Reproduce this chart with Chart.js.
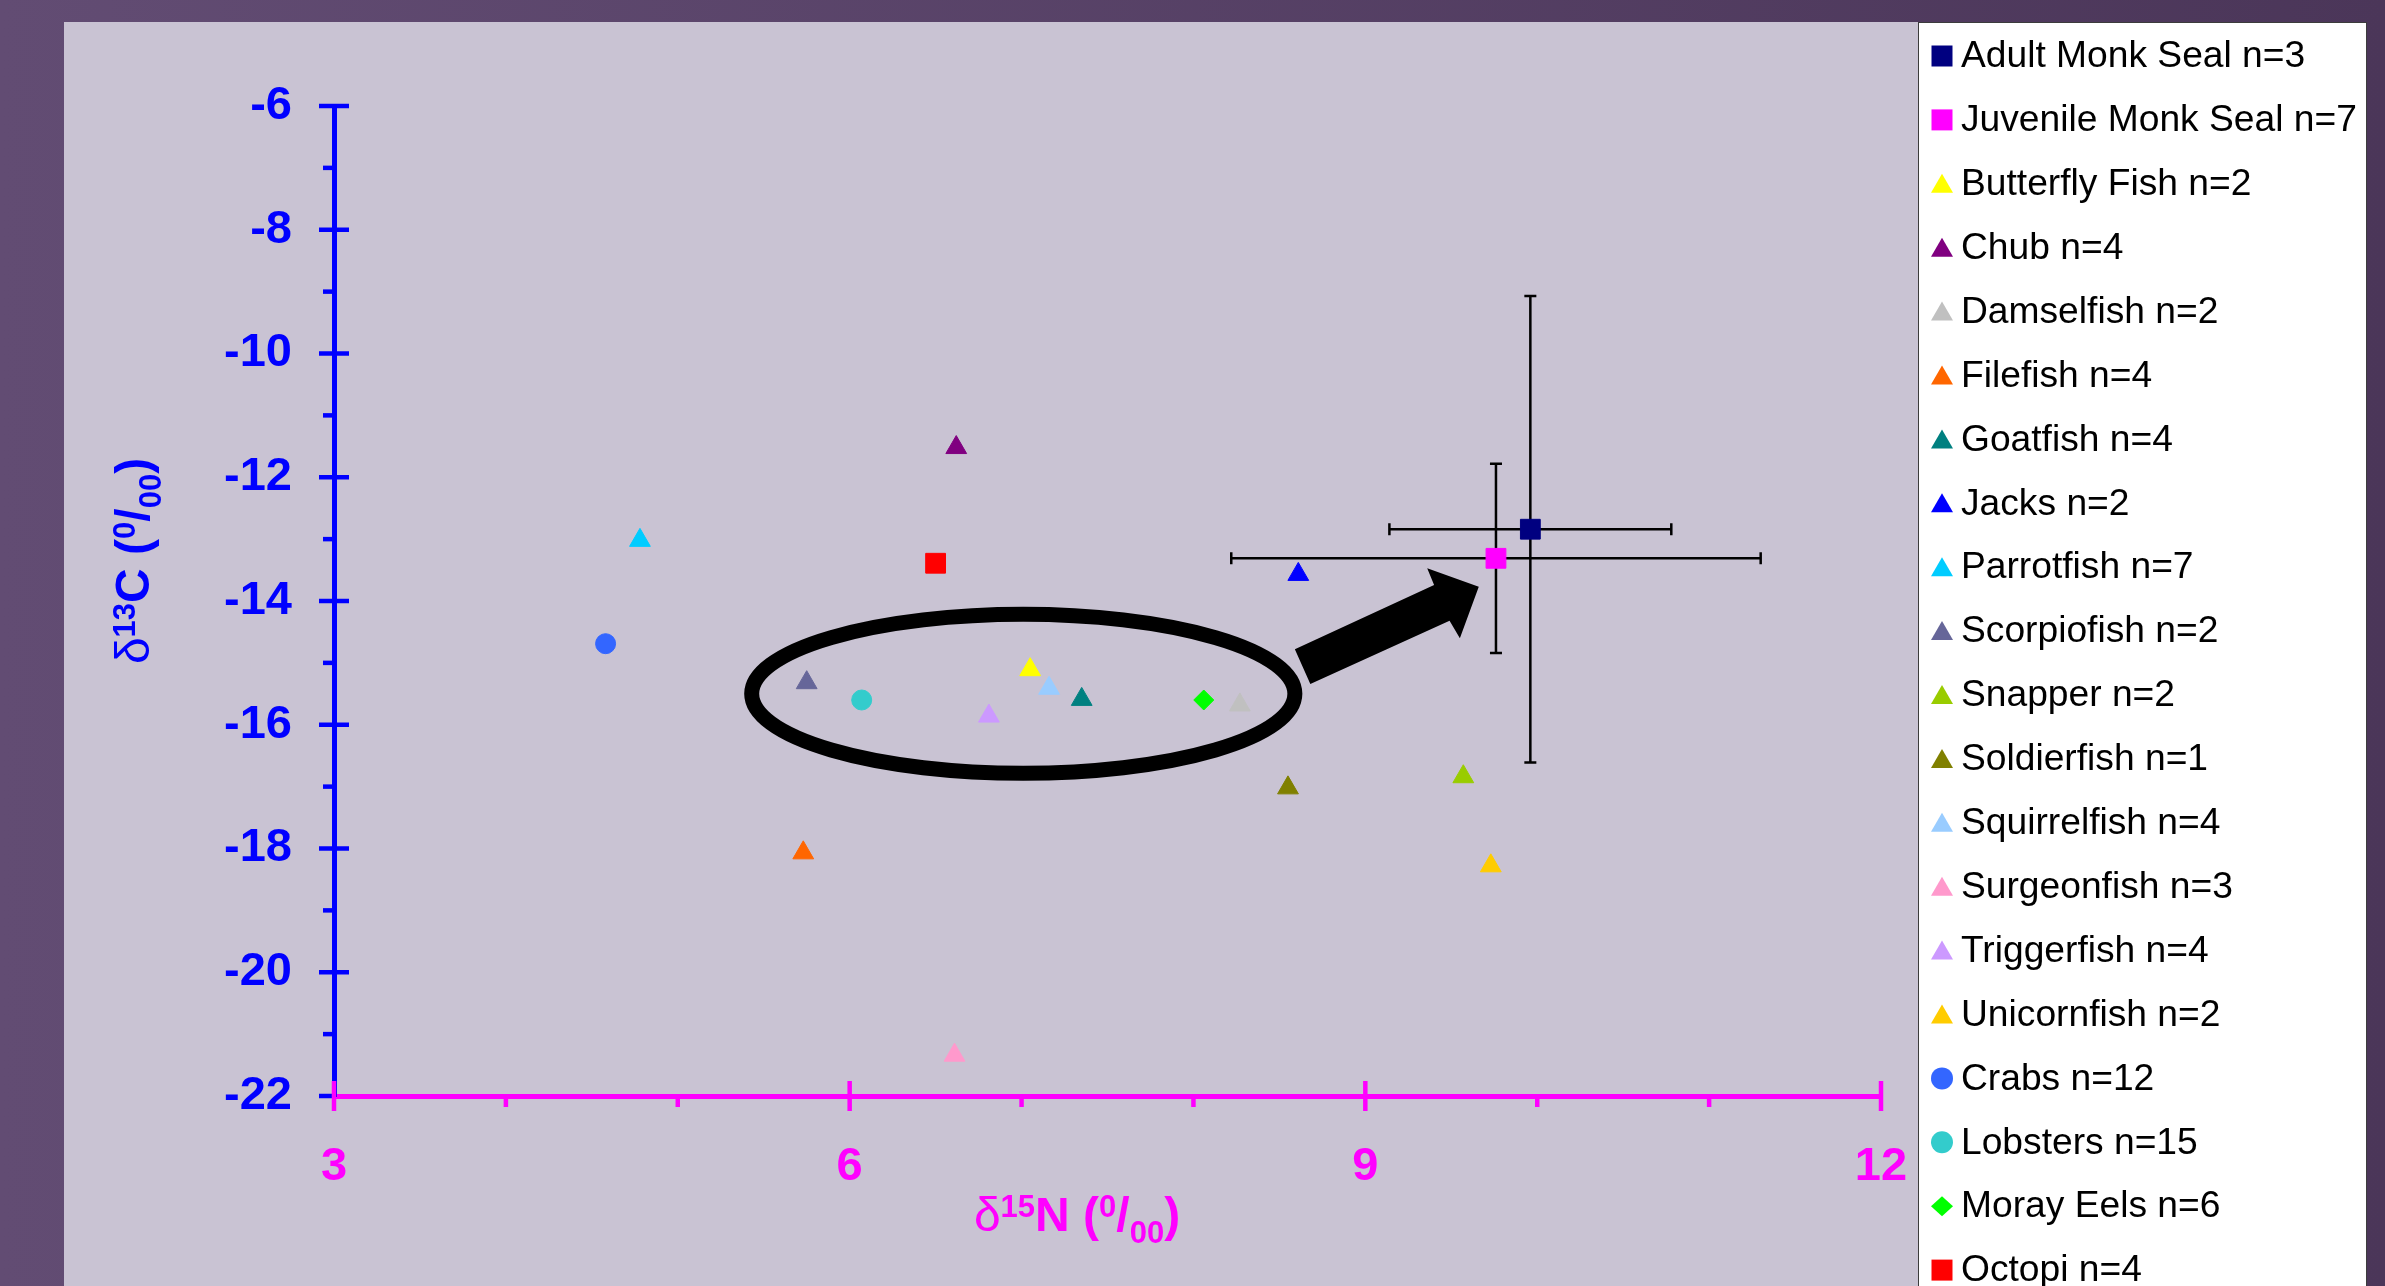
<!DOCTYPE html>
<html>
<head>
<meta charset="utf-8">
<script src="https://cdn.jsdelivr.net/npm/chart.js@4.4.1/dist/chart.umd.min.js"></script>
<style>
  html, body { margin: 0; padding: 0; }
  body { width: 2385px; height: 1286px; overflow: hidden; position: relative;
         background: linear-gradient(to right, #624c73, #4b3659); }
  #panel { position: absolute; left: 64px; top: 22px; width: 1855px; height: 1300px; background: #c9c3d3; }
  #legendBox { position: absolute; left: 1918px; top: 22px; width: 449px; height: 1300px;
               background: #ffffff; border: 1px solid #3c3c3c; box-sizing: border-box; }
  #chart { position: absolute; left: 0; top: 0; }
</style>
</head>
<body>
<div id="panel"></div>
<div id="legendBox"></div>
<canvas id="chart" width="2385" height="1286"></canvas>
<script>
// especies y numero de muestras
const species = ['Adult Monk Seal', 'Juvenile Monk Seal', 'Butterfly Fish', 'Chub', 'Damselfish',
  'Filefish', 'Goatfish', 'Jacks', 'Parrotfish', 'Scorpiofish', 'Snapper', 'Soldierfish',
  'Squirrelfish', 'Surgeonfish', 'Triggerfish', 'Unicornfish', 'Crabs', 'Lobsters', 'Moray Eels', 'Octopi']
const sampleSize = [3, 7, 2, 4, 2, 4, 4, 2, 7, 2, 2, 1, 4, 3, 4, 2, 12, 15, 6, 4]

// valores medios (d15N en x, d13C en y)
const n15 = [9.96, 9.76, 7.05, 6.62, 8.27, 5.73, 7.35, 8.61, 4.78, 5.75, 9.57, 8.55, 7.16, 6.61, 6.81, 9.73, 4.58, 6.07, 8.06, 6.50]
const c13 = [-12.84, -13.31, -15.11, -11.52, -15.68, -18.07, -15.59, -13.57, -13.02, -15.32, -16.84, -17.02,
  -15.41, -21.34, -15.86, -18.28, -14.69, -15.60, -15.60, -13.39]

// barras de error, solo las focas las tienen
const n15Err = [0.82, 1.54, 0, 0, 0, 0, 0, 0, 0, 0, 0, 0, 0, 0, 0, 0, 0, 0, 0, 0]
const c13Err = [3.77, 1.53, 0, 0, 0, 0, 0, 0, 0, 0, 0, 0, 0, 0, 0, 0, 0, 0, 0, 0]

// etiquetas de los ejes
const xTickLabels = [3, 6, 9, 12]
const yTickLabels = [-6, -8, -10, -12, -14, -16, -18, -20, -22]

// ovalo y flecha dibujados sobre el grafico (en unidades de los ejes)
const ovalCenter = [7.01, -15.50]
const ovalRadius = [1.58, 1.285]
const arrowPoints = [[8.59, -14.78], [9.40, -13.74], [9.36, -13.47], [9.66, -13.77], [9.55, -14.60], [9.49, -14.32], [8.68, -15.34]]

const colors = ['#000080', '#ff00ff', '#ffff00', '#800080', '#c0c0c0', '#ff6600', '#008080', '#0000ff',
  '#00ccff', '#666699', '#99cc00', '#808000', '#99ccff', '#ff99cc', '#cc99ff', '#ffcc00',
  '#3366ff', '#33cccc', '#00ff00', '#ff0000']
const shapes = ['rect', 'rect', 'triangle', 'triangle', 'triangle', 'triangle', 'triangle', 'triangle',
  'triangle', 'triangle', 'triangle', 'triangle', 'triangle', 'triangle', 'triangle', 'triangle',
  'circle', 'circle', 'rectRot', 'rect']

const FONT = "'Liberation Sans', Arial, sans-serif"
const radiusFor = { rect: 14, triangle: 12, circle: 10, rectRot: 10 }

// dibuja texto con superindices / subindices
function drawRich(ctx, parts, cx, baseY) {
  let total = 0
  parts.forEach(p => { ctx.font = p.font; p.w = ctx.measureText(p.t).width; total += p.w })
  let x = cx - total / 2
  parts.forEach(p => { ctx.font = p.font; ctx.fillText(p.t, x, baseY + p.dy); x += p.w })
}
function titleParts(num, letter) {
  const big = 'bold 48px ' + FONT, small = 'bold 31px ' + FONT
  return [
    { t: 'δ', font: '48px ' + FONT, dy: 0 },
    { t: num, font: small, dy: -14 },
    { t: letter + ' (', font: big, dy: 0 },
    { t: '0', font: small, dy: -14 },
    { t: '/', font: big, dy: 0 },
    { t: '00', font: small, dy: 12 },
    { t: ')', font: big, dy: 0 }
  ]
}

function drawMarker(ctx, shape, x, y, color) {
  ctx.fillStyle = color
  ctx.beginPath()
  if (shape === 'rect') ctx.rect(x - 10.5, y - 10.5, 21, 21)
  else if (shape === 'circle') ctx.arc(x, y, 11, 0, Math.PI * 2)
  else if (shape === 'rectRot') { ctx.moveTo(x - 11, y); ctx.lineTo(x, y - 10); ctx.lineTo(x + 11, y); ctx.lineTo(x, y + 10) }
  else { ctx.moveTo(x, y - 10); ctx.lineTo(x + 11, y + 9); ctx.lineTo(x - 11, y + 9) }
  ctx.closePath()
  ctx.fill()
}

// barras de error detras de los puntos
const errorBars = {
  id: 'errorBars',
  beforeDatasetsDraw(chart) {
    const ctx = chart.ctx, xs = chart.scales.x, ys = chart.scales.y
    ctx.save()
    ctx.strokeStyle = '#000'
    ctx.lineWidth = 2.5
    n15.forEach((xv, i) => {
      if (!n15Err[i] && !c13Err[i]) return
      const px = xs.getPixelForValue(xv), py = ys.getPixelForValue(c13[i])
      const x1 = xs.getPixelForValue(xv - n15Err[i]), x2 = xs.getPixelForValue(xv + n15Err[i])
      const y1 = ys.getPixelForValue(c13[i] + c13Err[i]), y2 = ys.getPixelForValue(c13[i] - c13Err[i])
      ctx.beginPath()
      ctx.moveTo(x1, py); ctx.lineTo(x2, py)
      ctx.moveTo(x1, py - 6); ctx.lineTo(x1, py + 6)
      ctx.moveTo(x2, py - 6); ctx.lineTo(x2, py + 6)
      ctx.moveTo(px, y1); ctx.lineTo(px, y2)
      ctx.moveTo(px - 6, y1); ctx.lineTo(px + 6, y1)
      ctx.moveTo(px - 6, y2); ctx.lineTo(px + 6, y2)
      ctx.stroke()
    })
    ctx.restore()
  }
}

// ovalo y flecha
const annotations = {
  id: 'annotations',
  afterDatasetsDraw(chart) {
    const ctx = chart.ctx, xs = chart.scales.x, ys = chart.scales.y
    const cx = xs.getPixelForValue(ovalCenter[0]), cy = ys.getPixelForValue(ovalCenter[1])
    const rx = xs.getPixelForValue(ovalCenter[0] + ovalRadius[0]) - cx
    const ry = cy - ys.getPixelForValue(ovalCenter[1] + ovalRadius[1])
    ctx.save()
    ctx.strokeStyle = '#000'
    ctx.lineWidth = 15
    ctx.beginPath()
    ctx.ellipse(cx, cy, rx, ry, 0, 0, Math.PI * 2)
    ctx.stroke()
    ctx.fillStyle = '#000'
    ctx.beginPath()
    arrowPoints.forEach((p, i) => {
      const px = xs.getPixelForValue(p[0]), py = ys.getPixelForValue(p[1])
      if (i === 0) ctx.moveTo(px, py); else ctx.lineTo(px, py)
    })
    ctx.closePath()
    ctx.fill()
    ctx.restore()
  }
}

// marcas de los ejes, titulos y leyenda
const decor = {
  id: 'decor',
  afterDraw(chart) {
    const ctx = chart.ctx, xs = chart.scales.x, ys = chart.scales.y
    const ax = chart.chartArea.left, ay = chart.chartArea.bottom
    ctx.save()
    ctx.lineWidth = 4.5
    ctx.strokeStyle = '#0000ff'
    ys.ticks.forEach(t => {
      const py = ys.getPixelForValue(t.value)
      const major = yTickLabels.includes(t.value)
      ctx.beginPath()
      ctx.moveTo(ax - (major ? 15 : 11), py)
      ctx.lineTo(major && t.value !== ys.min ? ax + 15 : ax, py)
      ctx.stroke()
    })
    ctx.strokeStyle = '#ff00ff'
    xs.ticks.forEach(t => {
      const px = xs.getPixelForValue(t.value)
      const major = xTickLabels.includes(t.value)
      ctx.beginPath()
      ctx.moveTo(px, major ? ay - 15 : ay)
      ctx.lineTo(px, ay + (major ? 15 : 11))
      ctx.stroke()
    })

    // titulos de los ejes
    ctx.textAlign = 'left'
    ctx.textBaseline = 'alphabetic'
    ctx.fillStyle = '#ff00ff'
    drawRich(ctx, titleParts('15', 'N'), 1077, 1231)
    ctx.save()
    ctx.translate(149, 561)
    ctx.rotate(-Math.PI / 2)
    ctx.fillStyle = '#0000ff'
    drawRich(ctx, titleParts('13', 'C'), 0, 0)
    ctx.restore()

    // leyenda
    chart.data.datasets.forEach((ds, i) => {
      const y = 56 + i * 63.9
      drawMarker(ctx, ds.pointStyle, 1942, y, ds.backgroundColor)
      ctx.fillStyle = '#000'
      ctx.font = '37.2px ' + FONT
      ctx.textBaseline = 'middle'
      ctx.fillText(ds.label, 1961, y + 1)
    })
    ctx.restore()
  }
}

document.addEventListener('DOMContentLoaded', function () {
  const datasets = species.map((name, i) => ({
    label: name + ' n=' + sampleSize[i],
    data: [{ x: n15[i], y: c13[i] }],
    pointStyle: shapes[i],
    pointRadius: radiusFor[shapes[i]],
    backgroundColor: colors[i],
    borderColor: colors[i],
    borderWidth: 1
  }))

  new Chart(document.getElementById('chart'), {
    type: 'scatter',
    data: { datasets: datasets },
    plugins: [errorBars, annotations, decor],
    options: {
      responsive: false,
      animation: false,
      events: [],
      devicePixelRatio: 1,
      layout: { padding: { left: 64, top: 106, right: 504, bottom: 0 } },
      plugins: { legend: { display: false }, tooltip: { enabled: false } },
      scales: {
        x: {
          type: 'linear', position: 'bottom', min: 3, max: 12,
          ticks: {
            stepSize: 1, autoSkip: false, maxRotation: 0, color: '#ff00ff', padding: 43,
            font: { family: FONT, size: 47, weight: 'bold' },
            callback: v => xTickLabels.includes(v) ? v : ''
          },
          grid: { display: false, drawTicks: false },
          border: { display: true, color: '#ff00ff', width: 5 },
          afterFit: s => { s.height = 190 }
        },
        y: {
          type: 'linear', position: 'left', min: -22, max: -6,
          ticks: {
            stepSize: 1, autoSkip: false, color: '#0000ff', padding: 42,
            font: { family: FONT, size: 47, weight: 'bold' },
            callback: v => yTickLabels.includes(v) ? v : ''
          },
          grid: { display: false, drawTicks: false },
          border: { display: true, color: '#0000ff', width: 5 },
          afterFit: s => { s.width = 270 }
        }
      }
    }
  })
})
</script>
</body>
</html>
